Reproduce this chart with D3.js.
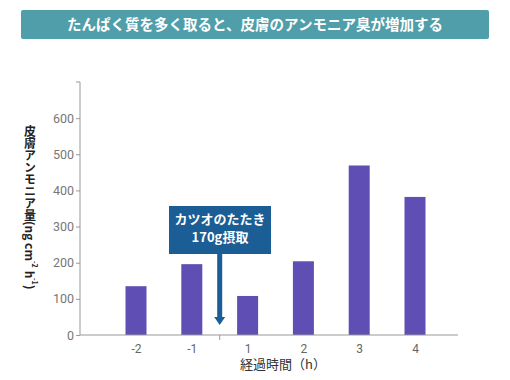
<!DOCTYPE html>
<html><head><meta charset="utf-8">
<script src="https://cdn.jsdelivr.net/npm/d3@7"></script>
<style>body{margin:0;background:#fff;} svg{display:block;font-family:"Noto Sans CJK JP","Noto Sans",sans-serif;}</style>
</head><body>
<svg id="c" width="510" height="380"></svg>
<script>
const title = "たんぱく質を多く取ると、皮膚のアンモニア臭が増加する";
const categories = ["-2", "-1", "1", "2", "3", "4"];
const values = [135, 196, 108, 204, 469, 382];
const yTicks = [0, 100, 200, 300, 400, 500, 600];
const yLabelJa = "皮膚アンモニア量";
const xLabel = "経過時間（h）";
const noteLines = ["カツオのたたき", "170g摂取"];

const svg = d3.select("#c");
// title banner
svg.append("rect").attr("x", 21).attr("y", 10).attr("width", 468).attr("height", 29)
  .attr("rx", 2).attr("fill", "#4f9ea9");
svg.append("text").attr("x", 255).attr("y", 30).attr("text-anchor", "middle")
  .attr("fill", "#fff").attr("font-size", 14.5).attr("font-weight", "bold").text(title);

const x0 = 80, x1 = 458, yTop = 82, yBot = 335;
const y = d3.scaleLinear().domain([0, 700]).range([yBot, yTop]);
const x = d3.scalePoint().domain(categories).range([136, 415]);

// y axis
const yAxis = d3.axisLeft(y).tickValues(yTicks).tickSize(4).tickPadding(2).tickSizeOuter(0);
const gy = svg.append("g").attr("transform", `translate(${x0},0)`).call(yAxis);
gy.select(".domain").attr("stroke", "#999").attr("d", `M0,${yBot}V${yTop}`);
gy.selectAll(".tick line").attr("stroke", "#999");
gy.selectAll(".tick text").attr("fill", "#777").attr("font-size", 12.5).attr("font-family", "Roboto, sans-serif");
svg.append("line").attr("x1", x0 - 4).attr("x2", x0).attr("y1", yTop).attr("y2", yTop).attr("stroke", "#999");

// bars
svg.append("g").selectAll("rect").data(values).join("rect")
  .attr("x", (d, i) => x(categories[i]) - 10.5)
  .attr("width", 21)
  .attr("y", d => y(d))
  .attr("height", d => yBot - y(d))
  .attr("fill", "#5f4fb4");

// x axis
const xAxis = d3.axisBottom(x).tickSize(0).tickPadding(9);
const gx = svg.append("g").attr("transform", `translate(0,${yBot})`).call(xAxis);
gx.select(".domain").attr("stroke", "#999").attr("d", `M${x0},0H${x1}`);
gx.selectAll(".tick text").attr("fill", "#666").attr("font-size", 12).attr("font-family", "Roboto, sans-serif");
const midX = (x("-1") + x("1")) / 2;
svg.append("line").attr("x1", midX).attr("x2", midX).attr("y1", yBot).attr("y2", yBot + 5).attr("stroke", "#999");

svg.append("text").attr("x", 283).attr("y", 369).attr("text-anchor", "middle")
  .attr("fill", "#333").attr("font-size", 13).text(xLabel);

// y label (vertical writing)
const yl = svg.append("text").attr("x", 30).attr("y", 125)
  .style("writing-mode", "vertical-rl").style("text-orientation", "mixed")
  .attr("font-size", 12).attr("font-weight", "bold").attr("fill", "#222");
yl.append("tspan").text(yLabelJa + "(ng cm");
yl.append("tspan").attr("font-size", 7).attr("baseline-shift", "super").text("-2");
yl.append("tspan").text(" h");
yl.append("tspan").attr("font-size", 7).attr("baseline-shift", "super").text("-1");
yl.append("tspan").text(")");

// annotation
svg.append("rect").attr("x", 169).attr("y", 206).attr("width", 102).attr("height", 48).attr("fill", "#1b5e96");
noteLines.forEach((t, i) => {
  svg.append("text").attr("x", 220).attr("y", 224 + i * 18).attr("text-anchor", "middle")
    .attr("fill", "#fff").attr("font-size", 13).attr("font-weight", "bold").text(t);
});
svg.append("rect").attr("x", midX - 2.5).attr("y", 254).attr("width", 5).attr("height", 64).attr("fill", "#1b5e96");
svg.append("path").attr("d", `M${midX - 5.5},317 L${midX + 5.5},317 L${midX},325 Z`).attr("fill", "#1b5e96");
</script>
</body></html>
